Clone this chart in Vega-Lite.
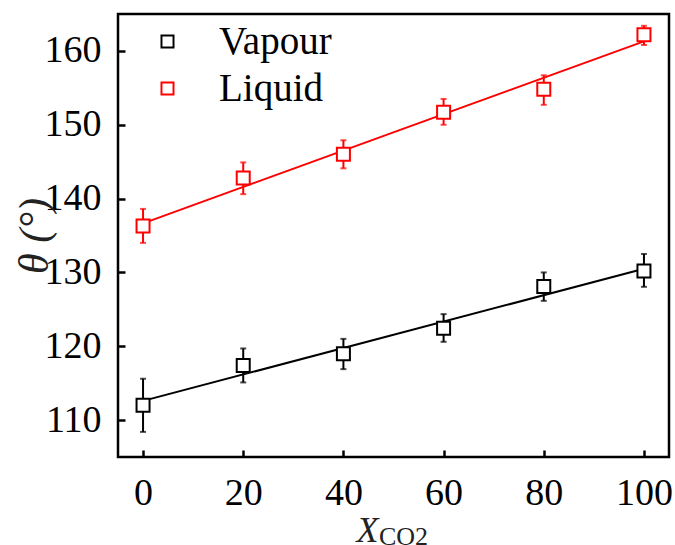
{
  "$schema": "https://vega.github.io/schema/vega-lite/v6.json",
  "autosize": "none",
  "width": 551,
  "height": 443,
  "padding": {"left": 118, "top": 14, "right": 6, "bottom": 88},
  "background": "white",
  "config": {
    "view": {"stroke": "black", "strokeWidth": 2.5},
    "axis": {
      "domain": false, "offset": -7,
      "ticks": true, "tickSize": 7, "tickWidth": 2.5, "tickColor": "black",
      "grid": false,
      "labelFont": "Liberation Serif", "labelFontSize": 38, "labelColor": "black",
      "titleFont": "Liberation Serif", "titleFontWeight": "normal", "titleColor": "#222"
    }
  },
  "title": {
    "text": "CO2", "orient": "bottom", "anchor": "start", "frame": "group",
    "font": "Liberation Serif", "fontSize": 26, "fontWeight": "normal", "color": "#222",
    "baseline": "alphabetic", "dx": 261, "dy": -3, "offset": 0
  },
  "datasets": {
    "points": [
      {"x": 0, "theta": 112.0, "lo": 108.4, "hi": 115.6, "series": "Vapour"},
      {"x": 20, "theta": 117.4, "lo": 115.1, "hi": 119.7, "series": "Vapour"},
      {"x": 40, "theta": 119.0, "lo": 116.9, "hi": 121.0, "series": "Vapour"},
      {"x": 60, "theta": 122.45, "lo": 120.6, "hi": 124.35, "series": "Vapour"},
      {"x": 80, "theta": 128.1, "lo": 126.15, "hi": 130.0, "series": "Vapour"},
      {"x": 100, "theta": 130.2, "lo": 128.05, "hi": 132.5, "series": "Vapour"},
      {"x": 0, "theta": 136.3, "lo": 134.0, "hi": 138.6, "series": "Liquid"},
      {"x": 20, "theta": 142.8, "lo": 140.6, "hi": 144.9, "series": "Liquid"},
      {"x": 40, "theta": 146.0, "lo": 144.1, "hi": 147.9, "series": "Liquid"},
      {"x": 60, "theta": 151.7, "lo": 150.0, "hi": 153.5, "series": "Liquid"},
      {"x": 80, "theta": 154.8, "lo": 152.7, "hi": 156.7, "series": "Liquid"},
      {"x": 100, "theta": 162.2, "lo": 160.8, "hi": 163.4, "series": "Liquid"}
    ],
    "fits": [
      {"x": 0, "theta": 112.6, "series": "Vapour"},
      {"x": 100, "theta": 130.5, "series": "Vapour"},
      {"x": 0, "theta": 136.65, "series": "Liquid"},
      {"x": 100, "theta": 161.3, "series": "Liquid"}
    ]
  },
  "encoding": {
    "x": {
      "field": "x", "type": "quantitative",
      "scale": {"domain": [-5, 105], "nice": false, "zero": false},
      "axis": {"values": [0, 20, 40, 60, 80, 100], "labelPadding": 17,
               "title": "X", "titleFontSize": 36, "titleFontStyle": "italic",
               "titleAnchor": "start", "titleX": 238, "titleY": 91, "titleBaseline": "alphabetic"}
    },
    "y": {
      "field": "theta", "type": "quantitative",
      "scale": {"domain": [105, 165], "nice": false, "zero": false},
      "axis": {"values": [110, 120, 130, 140, 150, 160], "labelPadding": 17,
               "title": "θ (°)", "titleFontSize": 42, "titleFontStyle": "italic", "titlePadding": -12}
    },
    "color": {
      "field": "series", "type": "nominal",
      "scale": {"domain": ["Vapour", "Liquid"], "range": ["black", "#ff0000"]},
      "legend": {
        "title": null, "orient": "none", "legendX": 30, "legendY": 8,
        "symbolType": "M-1,-1H1V1H-1Z M-0.72,-0.72V0.72H0.72V-0.72Z",
        "symbolSize": 196, "symbolStrokeWidth": 0, "symbolOpacity": 1,
        "labelFont": "Liberation Serif", "labelFontSize": 39, "labelColor": "black",
        "labelOffset": 32, "rowPadding": 7, "padding": 0
      }
    }
  },
  "layer": [
    {
      "data": {"name": "fits"},
      "mark": {"type": "line", "strokeWidth": 2}
    },
    {
      "data": {"name": "points"},
      "mark": {"type": "rule", "strokeWidth": 2},
      "encoding": {"y": {"field": "lo", "type": "quantitative"}, "y2": {"field": "hi"}}
    },
    {
      "data": {"name": "points"},
      "mark": {"type": "tick", "orient": "horizontal", "size": 6, "thickness": 2},
      "encoding": {"y": {"field": "lo", "type": "quantitative"}}
    },
    {
      "data": {"name": "points"},
      "mark": {"type": "tick", "orient": "horizontal", "size": 6, "thickness": 2},
      "encoding": {"y": {"field": "hi", "type": "quantitative"}}
    },
    {
      "data": {"name": "points"},
      "mark": {"type": "point", "shape": "square", "size": 169, "strokeWidth": 2, "fill": "white", "filled": false, "opacity": 1}
    }
  ]
}
